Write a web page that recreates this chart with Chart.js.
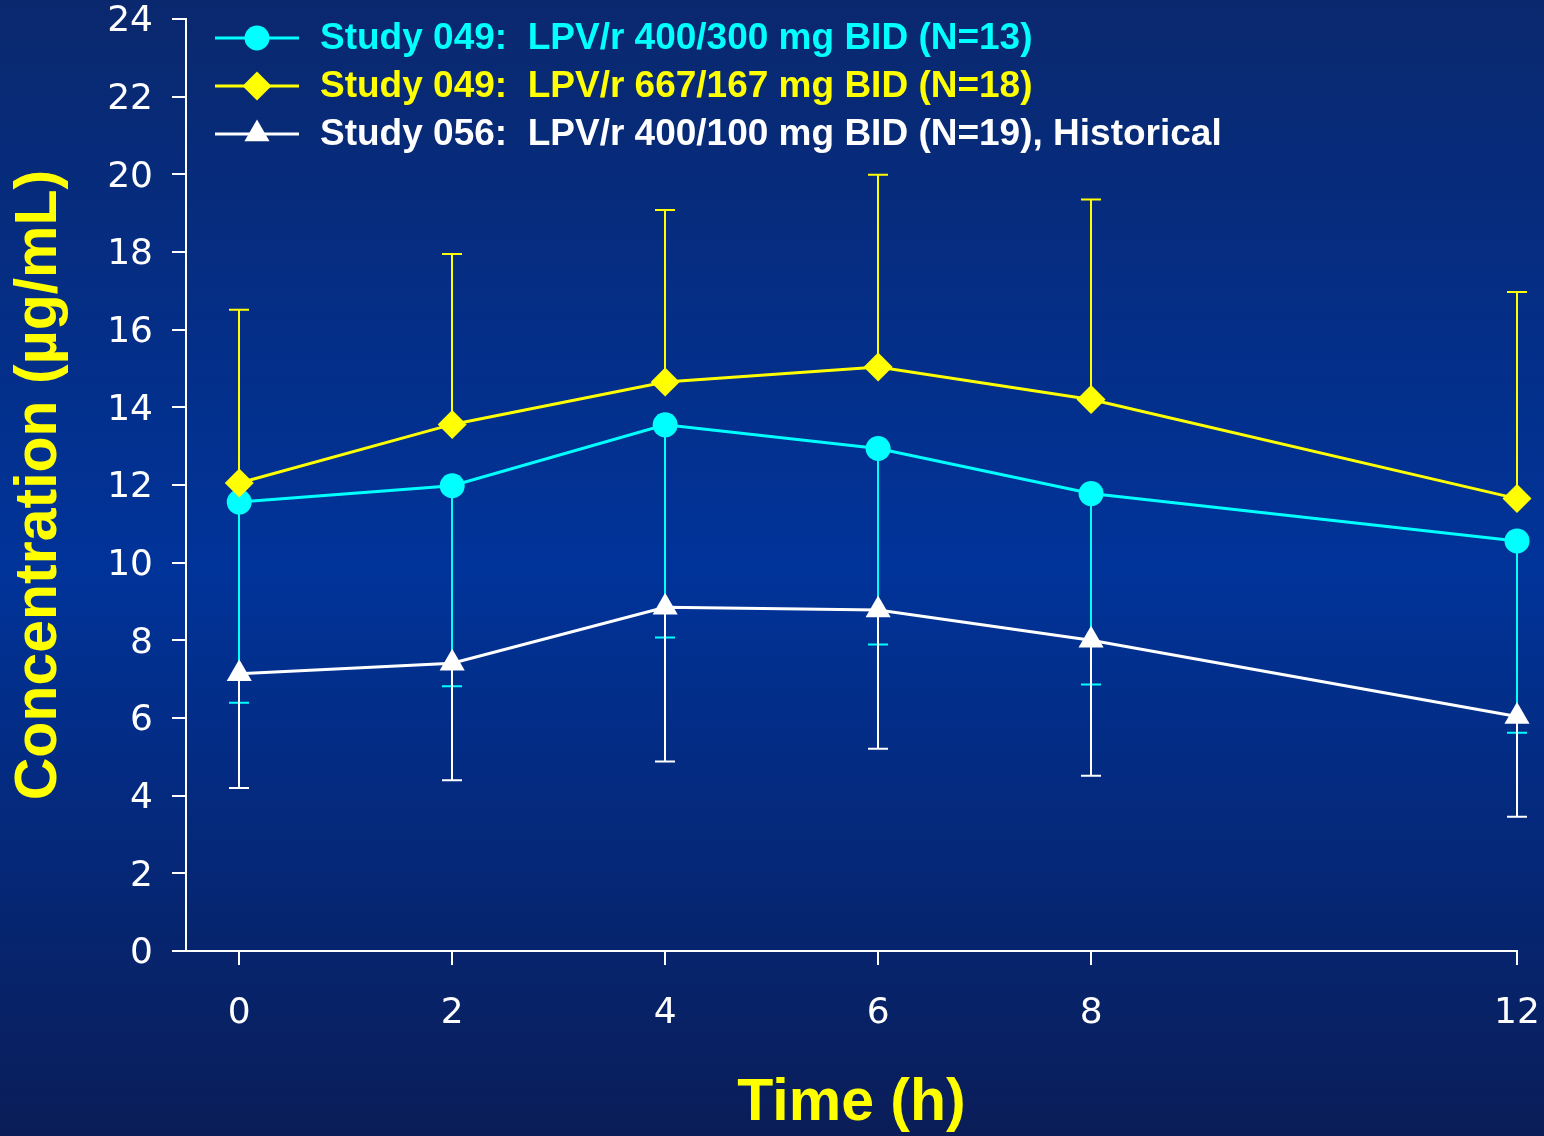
<!DOCTYPE html>
<html>
<head>
<meta charset="utf-8">
<script src="https://cdn.jsdelivr.net/npm/chart.js@4/dist/chart.umd.min.js"></script>
<style>
  html, body { margin: 0; padding: 0; background: #002a80; }
  #wrap { width: 1544px; height: 1136px; }
</style>
</head>
<body>
<div id="wrap"><canvas id="pk" width="1544" height="1136"></canvas></div>
<script>
// Sampling times (h) and the x-axis ticks shown
const hours = [0, 2, 4, 6, 8, 12];
const xTickValues = [0, 2, 4, 6, 8, 12];

// Series labels
const labelA = 'Study 049:  LPV/r 400/300 mg BID (N=13)';
const labelB = 'Study 049:  LPV/r 667/167 mg BID (N=18)';
const labelC = 'Study 056:  LPV/r 400/100 mg BID (N=19), Historical';

// Mean lopinavir concentrations (µg/mL) and the ends of their SD bars
const meanA = [11.56, 11.98, 13.55, 12.94, 11.78, 10.56];
const lowerA = [6.39, 6.82, 8.07, 7.89, 6.86, 5.62];

const meanB = [12.05, 13.56, 14.65, 15.04, 14.20, 11.65];
const upperB = [16.51, 17.95, 19.08, 19.99, 19.35, 16.97];

const meanC = [7.14, 7.41, 8.85, 8.78, 8.00, 6.04];
const lowerC = [4.20, 4.40, 4.88, 5.21, 4.51, 3.46];

const CYAN = '#00ffff';
const YELLOW = '#ffff00';
const WHITE = '#ffffff';

function toPoints(ys) {
  return hours.map((h, i) => ({ x: h, y: ys[i] }));
}

// Slide-style vertical gradient behind the whole chart
const backdrop = {
  id: 'backdrop',
  beforeDraw(chart) {
    const { ctx, width, height } = chart;
    const g = ctx.createLinearGradient(0, 0, 0, height);
    g.addColorStop(0, '#0a286e');
    g.addColorStop(0.5, '#003399');
    g.addColorStop(1, '#0a1d58');
    ctx.save();
    ctx.fillStyle = g;
    ctx.fillRect(0, 0, width, height);
    ctx.restore();
  }
};

// One-sided SD bars with caps, drawn beneath the lines
const errorBars = {
  id: 'errorBars',
  beforeDatasetsDraw(chart) {
    const { ctx } = chart;
    const xs = chart.scales.x, ys = chart.scales.y;
    const order = [0, 2, 1];
    ctx.save();
    order.forEach(di => {
      const ds = chart.data.datasets[di];
      if (!ds.barEnds) return;
      ctx.strokeStyle = ds.borderColor;
      ctx.lineWidth = 2;
      ds.data.forEach((p, i) => {
        const px = Math.round(xs.getPixelForValue(p.x));
        const y0 = ys.getPixelForValue(p.y);
        const y1 = ys.getPixelForValue(ds.barEnds[i]);
        ctx.beginPath();
        ctx.moveTo(px, y0);
        ctx.lineTo(px, y1);
        ctx.moveTo(px - 10, y1);
        ctx.lineTo(px + 10, y1);
        ctx.stroke();
      });
    });
    ctx.restore();
  }
};

function drawMarker(ctx, style, x, y, r, color) {
  ctx.fillStyle = color;
  ctx.beginPath();
  if (style === 'circle') {
    ctx.arc(x, y, r, 0, Math.PI * 2);
  } else if (style === 'rectRot') {
    ctx.moveTo(x - r, y);
    ctx.lineTo(x, y - r);
    ctx.lineTo(x + r, y);
    ctx.lineTo(x, y + r);
    ctx.closePath();
  } else if (style === 'triangle') {
    for (let k = 0; k < 3; k++) {
      const a = k * 2 * Math.PI / 3;
      const px = x + Math.sin(a) * r, py = y - Math.cos(a) * r;
      if (k === 0) ctx.moveTo(px, py); else ctx.lineTo(px, py);
    }
    ctx.closePath();
  }
  ctx.fill();
}

// Legend with a line through each marker, text in the series colour
const lineLegend = {
  id: 'lineLegend',
  afterDraw(chart) {
    const { ctx } = chart;
    const rows = [0, 1, 2];
    ctx.save();
    ctx.font = 'bold 37px "Liberation Sans", Arial, sans-serif';
    ctx.textBaseline = 'middle';
    ctx.textAlign = 'left';
    rows.forEach((di, r) => {
      const ds = chart.data.datasets[di];
      const y = 38 + r * 48;
      ctx.strokeStyle = ds.borderColor;
      ctx.lineWidth = 3;
      ctx.beginPath();
      ctx.moveTo(215, y);
      ctx.lineTo(299, y);
      ctx.stroke();
      drawMarker(ctx, ds.pointStyle, 257, y, ds.pointRadius, ds.borderColor);
      ctx.fillStyle = ds.borderColor;
      ctx.fillText(ds.label, 320, y + 1);
    });
    ctx.restore();
  }
};

// Axis boxes keep fixed sizes; tick-label overhang is covered by layout padding
function noOverhang(scale) {
  scale.paddingTop = 0;
  scale.paddingBottom = 0;
  scale.paddingLeft = 0;
  scale.paddingRight = 0;
}

const tickFont = { family: '"DejaVu Sans", Verdana, sans-serif', size: 36, lineHeight: 1 };
const titleFont = { family: '"Liberation Sans", Arial, sans-serif', size: 59, weight: 'bold', lineHeight: 1 };

new Chart(document.getElementById('pk'), {
  type: 'line',
  data: {
    datasets: [
      {
        label: labelA, data: toPoints(meanA), barEnds: lowerA,
        borderColor: CYAN, backgroundColor: CYAN, borderWidth: 3,
        pointStyle: 'circle', pointRadius: 12.5, pointBorderWidth: 0,
        order: 3, clip: false
      },
      {
        label: labelB, data: toPoints(meanB), barEnds: upperB,
        borderColor: YELLOW, backgroundColor: YELLOW, borderWidth: 3,
        pointStyle: 'rectRot', pointRadius: 14.5, pointBorderWidth: 0,
        order: 2, clip: false
      },
      {
        label: labelC, data: toPoints(meanC), barEnds: lowerC,
        borderColor: WHITE, backgroundColor: WHITE, borderWidth: 3,
        pointStyle: 'triangle', pointRadius: 14.5, pointBorderWidth: 0,
        order: 1, clip: false
      }
    ]
  },
  options: {
    responsive: false,
    animation: false,
    devicePixelRatio: 1,
    layout: { padding: { top: 19, right: 27, left: 0, bottom: 0 } },
    plugins: { legend: { display: false }, tooltip: { enabled: false } },
    elements: { line: { tension: 0 } },
    scales: {
      x: {
        type: 'linear',
        min: -0.5,
        max: 12,
        afterBuildTicks(scale) {
          scale.ticks = xTickValues.map(v => ({ value: v }));
        },
        afterFit(scale) { scale.height = 185; noOverhang(scale); },
        ticks: { color: WHITE, font: tickFont, padding: 31, maxRotation: 0, autoSkip: false },
        grid: { drawOnChartArea: false, drawTicks: true, tickLength: 14, color: WHITE, lineWidth: 2 },
        border: { display: true, color: WHITE, width: 2 },
        title: { display: true, text: 'Time (h)', color: YELLOW, font: titleFont, padding: { top: 0, bottom: 3 } }
      },
      y: {
        min: 0,
        max: 24,
        afterFit(scale) { scale.width = 186; noOverhang(scale); },
        ticks: { stepSize: 2, color: WHITE, font: tickFont, padding: 19, labelOffset: 3 },
        grid: { drawOnChartArea: false, drawTicks: true, tickLength: 14, color: WHITE, lineWidth: 2 },
        border: { display: true, color: WHITE, width: 2 },
        title: { display: true, text: 'Concentration (µg/mL)', color: YELLOW, font: titleFont, padding: { top: 10, bottom: 0 } }
      }
    }
  },
  plugins: [backdrop, errorBars, lineLegend]
});
</script>
</body>
</html>
